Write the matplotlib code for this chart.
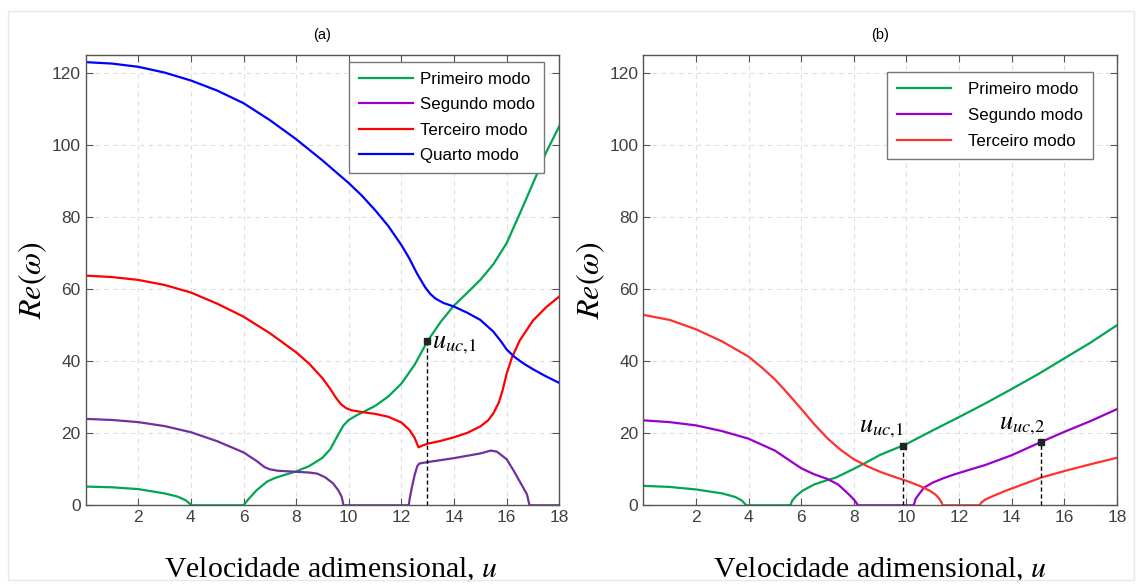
import numpy as np
import matplotlib
matplotlib.use("Agg")
import matplotlib.pyplot as plt
from matplotlib.patches import Rectangle

plt.rcParams['font.family'] = ['Liberation Sans', 'DejaVu Sans']
plt.rcParams['mathtext.fontset'] = 'stix'

# ---- panel (a) data ----
green_a_x = [0, 1, 2, 3, 3.5, 3.8, 3.95, 4.0, 6.0, 6.2, 6.5, 6.9, 7.2, 7.5, 8.0, 8.5, 9.0, 9.3,
             9.55, 9.8, 10.0, 10.3, 10.6, 11.0, 11.5, 12.0, 12.5, 13.0, 13.5, 14.0, 14.5, 15.0,
             15.5, 16.0, 16.5, 17.0, 17.5, 18.0]
green_a_y = [5.2, 5.0, 4.5, 3.3, 2.4, 1.4, 0.5, 0, 0, 1.8, 4.2, 6.6, 7.6, 8.3, 9.4, 10.9, 13.2, 15.6,
             19.0, 22.2, 23.7, 25.0, 26.1, 27.6, 30.2, 33.8, 39.0, 45.7, 51.0, 55.5, 59.0, 62.6,
             67.0, 72.8, 81.0, 89.4, 98.0, 105.3]

purple_a_x = [0, 1, 2, 3, 4, 5, 6, 6.5, 6.8, 7.0, 7.3, 8.0, 8.5, 8.8, 9.1, 9.4, 9.6, 9.73, 9.8,
              12.28, 12.32, 12.4, 12.5, 12.6, 12.68, 13.0, 14.0, 15.0, 15.4, 15.63, 16.0, 16.27,
              16.5, 16.77, 16.87, 18.0]
purple_a_y = [24.0, 23.7, 23.1, 22.0, 20.3, 17.8, 14.7, 12.3, 10.6, 10.0, 9.6, 9.3, 9.1, 8.8, 7.8, 6.1,
              4.2, 2.4, 0, 0, 2.0, 5.0, 8.3, 10.8, 11.6, 12.0, 13.1, 14.4, 15.2, 14.9, 12.8, 9.6,
              6.6, 3.1, 0, 0]

red_a_x = [0, 1, 2, 3, 4, 5, 6, 7, 8, 8.5, 9.0, 9.3, 9.5, 9.7, 9.9, 10.1, 10.5, 11.0, 11.5, 12.0,
           12.3, 12.5, 12.65, 12.8, 13.0, 13.5, 14.0, 14.5, 15.0, 15.3, 15.5, 15.7, 15.85, 16.0,
           16.2, 16.5, 17.0, 17.5, 18.0]
red_a_y = [63.8, 63.4, 62.6, 61.2, 59.1, 56.0, 52.4, 47.8, 42.5, 39.3, 35.3, 32.3, 30.0, 28.1, 27.0,
           26.4, 25.9, 25.4, 24.6, 23.0, 21.0, 18.8, 16.1, 16.6, 17.1, 17.9, 18.9, 20.1, 21.9, 23.6,
           25.6, 28.5, 32.0, 36.5, 41.0, 45.8, 51.3, 55.0, 58.0]

blue_a_x = [0, 1, 2, 3, 4, 5, 6, 7, 8, 9, 10, 10.5, 11, 11.5, 12, 12.3, 12.6, 12.9, 13.1, 13.3,
            13.6, 14, 14.5, 15, 15.5, 15.8, 16.0, 16.3, 16.6, 17, 17.5, 18]
blue_a_y = [123.1, 122.7, 121.8, 120.2, 118.0, 115.2, 111.7, 107.0, 101.7, 95.8, 89.5, 86.0, 82.0,
            77.6, 72.3, 68.6, 64.3, 60.6, 58.7, 57.4, 56.2, 55.2, 53.5, 51.5, 48.2, 45.4, 43.3,
            41.2, 39.6, 37.8, 35.8, 34.0]

# ---- panel (b) data ----
green_b_x = [0, 1, 2, 3, 3.5, 3.75, 3.85, 3.92, 5.6, 5.65, 5.8, 6.04, 6.5, 7.0, 7.32, 7.97, 8.5,
             9.0, 10, 11, 12, 13, 14, 15, 16, 17, 18]
green_b_y = [5.4, 5.1, 4.4, 3.3, 2.3, 1.3, 0.5, 0, 0, 1.2, 2.5, 4.0, 5.8, 7.0, 7.7, 10.0, 12.0,
             14.0, 17.0, 20.8, 24.5, 28.3, 32.3, 36.4, 40.8, 45.2, 50.0]

purple_b_x = [0, 1, 2, 3, 4, 5, 6, 6.5, 7.0, 7.4, 7.7, 7.9, 8.05, 8.16,
              10.28, 10.35, 10.5, 10.67, 11.0, 11.4, 11.83, 12.5, 13.0, 14.0, 15.12, 16, 17, 18]
purple_b_y = [23.6, 23.1, 22.2, 20.6, 18.5, 15.2, 10.3, 8.6, 7.3, 5.8, 3.8, 2.4, 1.2, 0,
              0, 1.8, 3.3, 4.9, 6.3, 7.5, 8.6, 10.1, 11.2, 13.9, 17.6, 20.4, 23.4, 26.7]

red_b_x = [0, 1, 2, 3, 4, 4.5, 5, 5.5, 6, 6.5, 7, 7.5, 8, 8.5, 9, 9.5, 10, 10.5, 10.9, 11.1, 11.25,
           11.33, 11.38, 12.79, 12.85, 13.0, 13.3, 13.76, 14.5, 15.12, 16, 17, 18]
red_b_y = [52.9, 51.5, 48.9, 45.5, 41.3, 38.3, 35.0, 31.0, 26.8, 22.5, 18.6, 15.4, 12.8, 10.9, 9.3,
           8.0, 6.8, 5.4, 4.0, 3.0, 1.8, 0.9, 0, 0, 0.8, 1.6, 2.6, 4.0, 6.0, 7.7, 9.5, 11.4, 13.2]

# critical points
uc_a = (12.97, 45.7)
uc_b1 = (9.86, 16.5)
uc_b2 = (15.12, 17.6)

green = '#00a651'
purple_a = '#7030a0'
purple_b = '#9900cc'
red_a = '#ff0000'
red_b = '#ff3030'
blue = '#0000ff'

fig = plt.figure(figsize=(11.42, 5.87), dpi=100)
fig.patches.append(Rectangle((0.007, 0.012), 0.986, 0.97, transform=fig.transFigure,
                             fill=False, edgecolor='#e8e8e8', linewidth=1))

ax1 = fig.add_axes([0.0750, 0.1392, 0.4147, 0.7666])
ax2 = fig.add_axes([0.5633, 0.1392, 0.4147, 0.7666])


def style(ax, title, xlab_x):
    ax.set_xlim(0, 18)
    ax.set_ylim(0, 125)
    ax.set_xticks(np.arange(2, 19, 2))
    ax.set_yticks(np.arange(0, 121, 20))
    ax.grid(True, linestyle=(0, (4, 4)), color='#dedede', linewidth=0.8)
    ax.set_axisbelow(True)
    ax.tick_params(direction='in', top=True, right=True, labelsize=12.5,
                   labelcolor='#404040', color='#555555', length=5)
    for s in ax.spines.values():
        s.set_color('#555555')
        s.set_linewidth(1.0)
    ax.set_title(title, fontsize=10.5, pad=12)
    ax.set_ylabel(r'$Re(\omega)$', fontsize=23, labelpad=2)
    ax.set_xlabel(r'Velocidade adimensional, $u$', fontsize=21.5, family='Liberation Serif')
    ax.xaxis.set_label_coords(xlab_x, -0.113, transform=ax.transAxes)
    ax.xaxis.label.set_va('top')


lw = 1.6
ax1.plot(green_a_x, green_a_y, color=green, lw=lw, label='Primeiro modo')
ax1.plot(purple_a_x, purple_a_y, color=purple_a, lw=lw, label='Segundo modo')
ax1.plot(red_a_x, red_a_y, color=red_a, lw=lw, label='Terceiro modo')
ax1.plot(blue_a_x, blue_a_y, color=blue, lw=lw, label='Quarto modo')
ax1.plot([uc_a[0], uc_a[0]], [0, uc_a[1]], color='black', lw=1, linestyle=(0, (3, 2)))
ax1.plot(uc_a[0], uc_a[1], 's', color='#222222', markersize=4)
ax1.text(uc_a[0] + 0.2, uc_a[1] - 1, r'$u_{uc{,}1}$', fontsize=19, va='center', ha='left')
style(ax1, '(a)', 0.518)
leg1 = ax1.legend(loc='upper center', bbox_to_anchor=(0.762, 0.984), fontsize=12.2,
                  handlelength=3.2, handletextpad=0.4, labelspacing=0.62, borderaxespad=0,
                  fancybox=False, framealpha=1, edgecolor='#777777', borderpad=0.55)
leg1.get_frame().set_linewidth(1.0)
leg1.get_lines()[1].set_color(purple_b)

ax2.plot(green_b_x, green_b_y, color=green, lw=lw, label='Primeiro modo')
ax2.plot(purple_b_x, purple_b_y, color=purple_b, lw=lw, label='Segundo modo')
ax2.plot(red_b_x, red_b_y, color=red_b, lw=lw, label='Terceiro modo')
for p in (uc_b1, uc_b2):
    ax2.plot([p[0], p[0]], [0, p[1]], color='black', lw=1, linestyle=(0, (3, 2)))
    ax2.plot(p[0], p[1], 's', color='#222222', markersize=4)
ax2.text(uc_b1[0] + 0.05, uc_b1[1] + 1.5, r'$u_{uc{,}1}$', fontsize=19, va='bottom', ha='right')
ax2.text(uc_b2[0] + 0.15, uc_b2[1] + 1.5, r'$u_{uc{,}2}$', fontsize=19, va='bottom', ha='right')
style(ax2, '(b)', 0.5)
leg2 = ax2.legend(loc='upper center', bbox_to_anchor=(0.732, 0.963), fontsize=12.2,
                  handlelength=3.2, handletextpad=1.0, labelspacing=0.64, borderaxespad=0,
                  fancybox=False, framealpha=1, edgecolor='#777777', borderpad=0.6)
leg2.get_frame().set_linewidth(1.0)

fig.savefig('out.png', dpi=100)
